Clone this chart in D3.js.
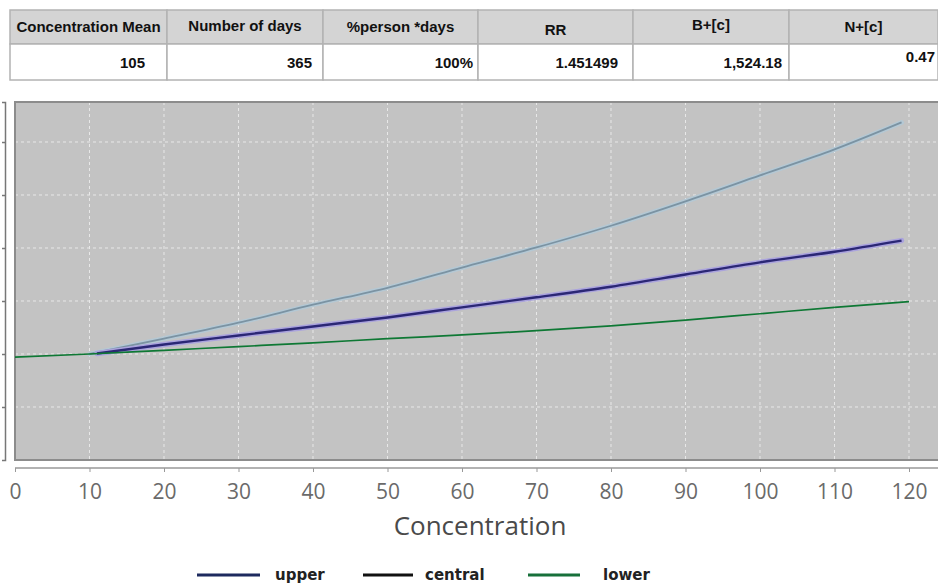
<!DOCTYPE html>
<html>
<head>
<meta charset="utf-8">
<script src="https://cdn.jsdelivr.net/npm/d3@7"></script>
<style>
  body { margin: 0; background: #fff; }
  svg { display: block; }
</style>
</head>
<body>
<div id="chart"></div>
<script>
// Table contents
var headers = ['Concentration Mean', 'Number of days', '%person *days', 'RR', 'B+[c]', 'N+[c]'];
var cells = ['105', '365', '100%', '1.451499', '1,524.18', '0.47'];

// Curves (concentration -> value)
var upperConc = [10, 20, 30, 40, 50, 60, 70, 80, 90, 100, 110, 119];
var upperVals = [1.000, 1.029, 1.059, 1.093, 1.125, 1.163, 1.201, 1.242, 1.288, 1.337, 1.386, 1.437];
var centralConc = [11, 20, 30, 40, 50, 60, 70, 80, 90, 100, 110, 119];
var centralVals = [1.001, 1.018, 1.035, 1.052, 1.069, 1.088, 1.107, 1.127, 1.150, 1.173, 1.193, 1.214];
var lowerConc = [0, 10, 20, 30, 40, 50, 60, 70, 80, 90, 100, 110, 120];
var lowerVals = [0.994, 1.000, 1.007, 1.014, 1.021, 1.029, 1.036, 1.044, 1.053, 1.064, 1.076, 1.088, 1.099];

var xTicks = [0, 10, 20, 30, 40, 50, 60, 70, 80, 90, 100, 110, 120];
var yTicks = [0.9, 1.0, 1.1, 1.2, 1.3, 1.4];
var legendNames = ['upper', 'central', 'lower'];

var sizes = {width: 938, height: 583};
var svg = d3.select('#chart').append('svg')
    .attr('width', sizes.width)
    .attr('height', sizes.height);

// ---- table ----
var colEdges = [10, 167, 323, 478, 633, 789, 938];
var headDy = [0, -1, 0, 3, -2, 0];      // the source image is a bit uneven
var cellPad = [22, 11, 5, 15, 7, 3];
var cellY = [63, 63, 63, 63, 63, 57];
var table = svg.append('g').style('font-family', 'Liberation Sans, Arial, sans-serif')
    .style('font-weight', 'bold').style('font-size', '15px');

headers.forEach(function(h, i){
    var x0 = colEdges[i], x1 = colEdges[i + 1];
    table.append('rect').attr('x', x0).attr('y', 10).attr('width', x1 - x0).attr('height', 34)
        .attr('fill', '#d4d4d4').attr('stroke', '#b3b3b3').attr('stroke-width', 1.5);
    table.append('rect').attr('x', x0).attr('y', 44).attr('width', x1 - x0).attr('height', 36)
        .attr('fill', '#fff').attr('stroke', '#b3b3b3').attr('stroke-width', 1.5);
    table.append('text').attr('x', (x0 + x1) / 2).attr('y', 27 + headDy[i]).attr('dy', '0.35em')
        .attr('text-anchor', 'middle').attr('fill', '#111').text(h);
    table.append('text').attr('x', x1 - cellPad[i]).attr('y', cellY[i]).attr('dy', '0.35em')
        .attr('text-anchor', 'end').attr('fill', '#111').text(cells[i]);
});

// ---- chart ----
var plot = {left: 15, right: 938, top: 102, bottom: 460};
var x = d3.scaleLinear().domain([0, 120]).range([15, 909]);
var y = d3.scaleLinear().domain([0.8, 1.4755]).range([plot.bottom, plot.top]);

svg.append('rect')
    .attr('x', plot.left).attr('y', plot.top)
    .attr('width', plot.right - plot.left).attr('height', plot.bottom - plot.top)
    .attr('fill', '#c3c3c3');

// grid
svg.append('g').selectAll('line').data(xTicks.slice(1)).enter().append('line')
    .attr('x1', function(d){ return x(d); }).attr('x2', function(d){ return x(d); })
    .attr('y1', plot.top).attr('y2', plot.bottom)
    .attr('stroke', '#e8e8e8').attr('stroke-dasharray', '3,3');
svg.append('g').selectAll('line').data(yTicks).enter().append('line')
    .attr('x1', plot.left).attr('x2', plot.right)
    .attr('y1', function(d){ return y(d); }).attr('y2', function(d){ return y(d); })
    .attr('stroke', '#e8e8e8').attr('stroke-dasharray', '3,3');

// plot border
svg.append('path')
    .attr('d', 'M' + plot.right + ',' + plot.top + 'H' + plot.left + 'V' + plot.bottom + 'H' + plot.right)
    .attr('fill', 'none').attr('stroke', '#8c8c8c').attr('stroke-width', 2);

// y axis (no labels)
var yAxis = svg.append('g').attr('transform', 'translate(5,0)')
    .call(d3.axisLeft(y).tickValues(yTicks).tickSize(3).tickSizeOuter(3).tickFormat(''));
yAxis.selectAll('path, line').attr('stroke', '#777').attr('stroke-width', 1.5);

// x axis
var xAxis = svg.append('g').attr('transform', 'translate(0,468)')
    .call(d3.axisBottom(x).tickValues(xTicks).tickSize(4).tickSizeOuter(0));
xAxis.select('.domain').attr('d', 'M' + plot.left + ',0H' + plot.right)
    .attr('stroke', '#999').attr('stroke-width', 1.5);
xAxis.selectAll('.tick line').attr('stroke', '#999');
xAxis.selectAll('.tick text')
    .attr('y', 31).attr('dy', null)
    .style('font-family', 'Open Sans, sans-serif').style('font-size', '21px')
    .attr('fill', '#6a6a6a');

svg.append('text').attr('x', 480).attr('y', 535).attr('text-anchor', 'middle')
    .style('font-family', 'Open Sans, sans-serif').style('font-size', '26px')
    .attr('fill', '#4a4a4a').text('Concentration');

// curves
var line = d3.line().curve(d3.curveMonotoneX)
    .x(function(d){ return x(d[0]); }).y(function(d){ return y(d[1]); });
var pairs = function(xs, vs){ return xs.map(function(c, i){ return [c, vs[i]]; }); };

var series = [
    {data: pairs(upperConc, upperVals), color: '#7b93a3', halo: '#b4c8d4', w: 1.8},
    {data: pairs(centralConc, centralVals), color: '#2b2775', halo: '#aaa3dd', w: 2.4},
    {data: pairs(lowerConc, lowerVals), color: '#0e7834', halo: null, w: 1.7}
];
series.forEach(function(s){
    if (s.halo){
        svg.append('path').datum(s.data).attr('d', line).attr('fill', 'none')
            .attr('stroke', s.halo).attr('stroke-width', s.w + 3).attr('stroke-linecap', 'round');
    }
    svg.append('path').datum(s.data).attr('d', line).attr('fill', 'none')
        .attr('stroke', s.color).attr('stroke-width', s.w);
});

// legend
var legendColors = ['#1d2a5e', '#111111', '#17703a'];
var legendLine = [[197, 260], [363, 413], [528, 580]];
var legendText = [275, 425, 603];
var legend = svg.append('g').style('font-family', 'DejaVu Sans, sans-serif')
    .style('font-weight', 'bold').style('font-size', '15px');
legendNames.forEach(function(n, i){
    legend.append('line').attr('x1', legendLine[i][0]).attr('x2', legendLine[i][1])
        .attr('y1', 575).attr('y2', 575)
        .attr('stroke', legendColors[i]).attr('stroke-width', 3);
    legend.append('text').attr('x', legendText[i]).attr('y', 580)
        .attr('fill', '#222').text(n);
});
</script>
</body>
</html>
